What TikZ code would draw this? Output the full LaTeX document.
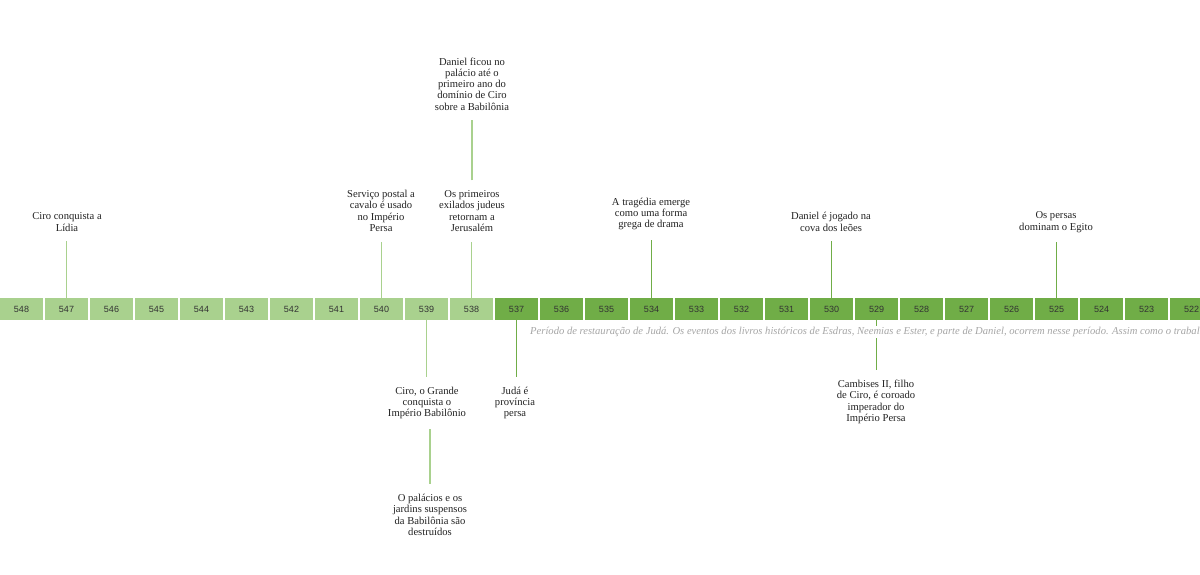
\documentclass[tikz,border=0pt]{standalone}
\usepackage{fontspec}
\setmainfont{Liberation Serif}
\newfontfamily\numfont{Liberation Sans}
\definecolor{lg}{HTML}{A9D18E}
\definecolor{dg}{HTML}{70AD47}
\definecolor{numc}{HTML}{333333}
\definecolor{pgray}{HTML}{A6A6A6}
\definecolor{txt}{HTML}{222222}
\begin{document}
\begin{tikzpicture}[x=1pt,y=-1pt,
 box/.style={minimum width=43pt,minimum height=22pt,inner sep=0pt,font=\numfont\fontsize{9}{10}\selectfont,text=numc},
 lbl/.style={align=center,inner sep=0pt,outer ysep=10pt,text=txt,font=\fontsize{10.6}{11.3}\selectfont},
 conn/.style={line width=1.4pt}]
\useasboundingbox (0,0) rectangle (1200,575);
\clip (0,0) rectangle (1200,575);
\foreach \i in {0,...,10}{\pgfmathtruncatemacro{\yr}{548-\i}\node[box,fill=lg] (b\yr) at (21.5+45*\i,309) {\yr};}
\foreach \i in {11,...,26}{\pgfmathtruncatemacro{\yr}{548-\i}\node[box,fill=dg] (b\yr) at (21.5+45*\i,309) {\yr};}
% top labels
\node[lbl] (l547) at (67,222) {Ciro conquista a\\Lídia};
\node[lbl] (l540) at (381,211) {Serviço postal a\\cavalo é usado\\no Império\\Persa};
\node[lbl] (l538) at (472,211) {Os primeiros\\exilados judeus\\retornam a\\Jerusalém};
\node[lbl] (l538b) at (472,84) {Daniel ficou no\\palácio até o\\primeiro ano do\\domínio de Ciro\\sobre a Babilônia};
\node[lbl] (l534) at (651,214) {A tragédia emerge\\como uma forma\\grega de drama};
\node[lbl] (l530) at (831,222) {Daniel é jogado na\\cova dos leões};
\node[lbl] (l525) at (1056,222) {Os persas\\dominam o Egito};
% bottom labels
\node[lbl] (l539) at (427,403) {Ciro, o Grande\\conquista o\\Império Babilônio};
\node[lbl] (l539b) at (430,515) {O palácios e os\\jardins suspensos\\da Babilônia são\\destruídos};
\node[lbl] (l537) at (515,403) {Judá é\\província\\persa};
\node[lbl] (l529) at (876,402) {Cambises II, filho\\de Ciro, é coroado\\imperador do\\Império Persa};
% connectors
\draw[conn,lg] (b547.north) -- (b547.north |- l547.south);
\draw[conn,lg] (b540.north) -- (b540.north |- l540.south);
\draw[conn,lg] (b538.north) -- (b538.north |- l538.south);
\draw[conn,lg] (l538.north) -- (l538b.south);
\draw[conn,dg] (b534.north) -- (b534.north |- l534.south);
\draw[conn,dg] (b530.north) -- (b530.north |- l530.south);
\draw[conn,dg] (b525.north) -- (b525.north |- l525.south);
\draw[conn,lg] (b539.south) -- (b539.south |- l539.north);
\draw[conn,lg] (l539b.north |- l539.south) -- (l539b.north);
\draw[conn,dg] (b537.south) -- (b537.south |- l537.north);
\draw[conn,dg] (b529.south) -- (b529.south |- l529.north);
% period text
\node[anchor=west,inner sep=1pt,fill=white,text=pgray,font=\itshape\fontsize{10.6}{12}\selectfont] (per) at (529,332) {Período de restauração de Judá. Os eventos dos livros históricos de Esdras, Neemias e Ester, e parte de Daniel, ocorrem nesse período. Assim como o trabalho};
\end{tikzpicture}
\end{document}
